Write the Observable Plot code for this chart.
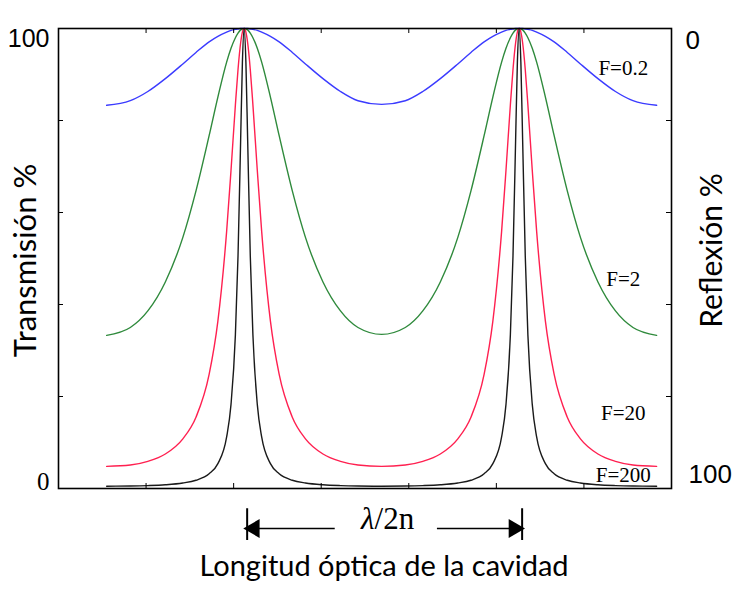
<!DOCTYPE html>
<html>
<head>
<meta charset="utf-8">
<script src="https://cdn.jsdelivr.net/npm/d3@7"></script>
<script src="https://cdn.jsdelivr.net/npm/@observablehq/plot@0.6"></script>
<style>
  html, body { margin: 0; padding: 0; background: #fff; }
  #chart { width: 732px; height: 589px; }
</style>
</head>
<body>
<div id="chart"></div>
<script>
// Optical path positions (arbitrary units along the cavity length axis)
const xs = [0.55,0.82,1.02,1.22,1.42,1.57,1.72,1.82,1.92,1.97,2.02,2.05,2.08,2.10,
  2.12,
  2.14,2.16,2.19,2.22,2.27,2.32,2.42,2.52,2.67,2.82,3.02,3.22,3.42,
  3.69,
  3.96,4.16,4.36,4.56,4.71,4.86,4.96,5.06,5.11,5.16,5.19,5.22,5.24,
  5.26,
  5.28,5.30,5.33,5.36,5.41,5.46,5.56,5.66,5.81,5.96,6.16,6.36,6.56,6.83];

// Transmission (%), one list per finesse coefficient
const tF02 = [83.3,84.3,86.3,89.1,92.3,94.8,97.1,98.3,99.2,99.6,99.8,99.9,100,100,
  100,
  100,100,99.9,99.8,99.6,99.2,98.3,97.1,94.8,92.3,89.1,86.3,84.3,
  83.5,
  84.3,86.3,89.1,92.3,94.8,97.1,98.3,99.2,99.6,99.8,99.9,100,100,
  100,
  100,100,99.9,99.8,99.6,99.2,98.3,97.1,94.8,92.3,89.1,86.3,84.3,83.3];

const tF2 = [33.3,35.0,38.6,44.9,54.6,64.7,76.7,85.1,92.7,95.7,98.0,99.0,99.7,99.9,
  100,
  99.9,99.7,99.0,98.0,95.7,92.7,85.1,76.7,64.7,54.6,44.9,38.6,35.0,
  33.5,
  35.0,38.6,44.9,54.6,64.7,76.7,85.1,92.7,95.7,98.0,99.0,99.7,99.9,
  100,
  99.9,99.7,99.0,98.0,95.7,92.7,85.1,76.7,64.7,54.6,44.9,38.6,35.0,33.3];

const tF20 = [4.8,5.1,5.9,7.5,10.8,15.5,24.8,36.4,55.9,69.2,83.4,91.1,96.9,99.2,
  100,
  99.2,96.9,91.1,83.4,69.2,55.9,36.4,24.8,15.5,10.8,7.5,5.9,5.1,
  4.8,
  5.1,5.9,7.5,10.8,15.5,24.8,36.4,55.9,69.2,83.4,91.1,96.9,99.2,
  100,
  99.2,96.9,91.1,83.4,69.2,55.9,36.4,24.8,15.5,10.8,7.5,5.9,5.1,4.8];

const tF200 = [0.5,0.54,0.63,0.81,1.2,1.8,3.2,5.4,11.2,18.3,33.4,50.6,75.8,92.6,
  100,
  92.6,75.8,50.6,33.4,18.3,11.2,5.4,3.2,1.8,1.2,0.81,0.63,0.54,
  0.5,
  0.54,0.63,0.81,1.2,1.8,3.2,5.4,11.2,18.3,33.4,50.6,75.8,92.6,
  100,
  92.6,75.8,50.6,33.4,18.3,11.2,5.4,3.2,1.8,1.2,0.81,0.63,0.54,0.5];

const seriesNames = ["F=0.2", "F=2", "F=20", "F=200"];
const seriesColors = ["#3b3bff", "#2f8a3c", "#ff2050", "#1a1a1a"];
const labelY = [91.3, 45.4, 16.3, 2.8];
const labelX = 6.45;

const xTicks = [1, 2, 3, 4, 5, 6];
const yTicks = [20, 40, 60, 80];
const peaks = [2.12, 5.26];

const rows = [];
[tF02, tF2, tF20, tF200].forEach((arr, i) => {
  arr.forEach((v, j) => rows.push({x: xs[j], t: v, s: seriesNames[i]}));
});

const sans = "'Liberation Sans', Arial, sans-serif";
const serif = "'Liberation Serif', 'Times New Roman', serif";
const calib = "Lato, 'Open Sans', sans-serif";

const tickLen = 5;
const kx = 7 / 613;   // data units per pixel along x (for tick length)
const ky = 100 / 460; // data units per pixel along y

const chart = Plot.plot({
  width: 732,
  height: 589,
  marginTop: 28,
  marginRight: 61,
  marginBottom: 101,
  marginLeft: 58,
  x: {domain: [0, 7], axis: null},
  y: {domain: [0, 100], axis: null},
  color: {domain: seriesNames, range: seriesColors},
  marks: [
    Plot.line(rows, {x: "x", y: "t", z: "s", stroke: "s", strokeWidth: 1.4, curve: "monotone-x"}),
    Plot.frame({stroke: "black", strokeWidth: 1.6}),
    // inward ticks
    Plot.ruleX(xTicks, {x: d => d, y1: 0, y2: tickLen * ky, stroke: "black"}),
    Plot.ruleX(xTicks, {x: d => d, y1: 100, y2: 100 - tickLen * ky, stroke: "black"}),
    Plot.ruleY(yTicks, {y: d => d, x1: 0, x2: tickLen * kx, stroke: "black"}),
    Plot.ruleY(yTicks, {y: d => d, x1: 7, x2: 7 - tickLen * kx, stroke: "black"}),
    // left axis labels
    Plot.text(["100"], {frameAnchor: "top-left", dx: -9, dy: 1, textAnchor: "end", fontFamily: sans, fontSize: 25, fill: "black"}),
    Plot.text(["0"], {frameAnchor: "bottom-left", dx: -9, dy: 1, textAnchor: "end", fontFamily: serif, fontSize: 25, fill: "black"}),
    // right axis labels
    Plot.text(["0"], {frameAnchor: "top-right", dx: 14, dy: 2, textAnchor: "start", fontFamily: sans, fontSize: 26, fill: "black"}),
    Plot.text(["100"], {frameAnchor: "bottom-right", dx: 17, dy: -6, textAnchor: "start", fontFamily: sans, fontSize: 26, fill: "black"}),
    // axis titles
    Plot.text(["Transmisión %"], {frameAnchor: "left", dx: -32, dy: 2, rotate: -90, textAnchor: "middle", fontFamily: calib, fontSize: 31, fill: "black"}),
    Plot.text(["Reflexión %"], {frameAnchor: "right", dx: 41, dy: -8, rotate: -90, textAnchor: "middle", fontFamily: calib, fontSize: 30, fill: "black"}),
    // curve labels
    Plot.text(seriesNames, {x: labelX, y: (d, i) => labelY[i], fontFamily: serif, fontSize: 21, fill: "black"}),
    // lambda/2n marker
    Plot.ruleX(peaks, {x: d => d, y1: -4.4, y2: -11.3, dx: 3, stroke: "black", strokeWidth: 2}),
    Plot.link([0], {x1: peaks[0], x2: peaks[0] + 1.0, y1: -8.7, y2: -8.7, dx: 3, stroke: "black", strokeWidth: 1.5}),
    Plot.link([0], {x1: peaks[1] - 0.95, x2: peaks[1], y1: -8.7, y2: -8.7, dx: 1, stroke: "black", strokeWidth: 1.5}),
    Plot.dot([0], {x: peaks[0], y: -8.7, symbol: "triangle", r: 7, rotate: -90, dx: 10, fill: "black", stroke: null}),
    Plot.dot([0], {x: peaks[1], y: -8.7, symbol: "triangle", r: 7, rotate: 90, dx: -5, fill: "black", stroke: null}),
    Plot.text(["λ/2n"], {x: (peaks[0] + peaks[1]) / 2, frameAnchor: "bottom", dx: 6, dy: 40, fontFamily: serif, fontSize: 31, fill: "black"}),
    // x axis title
    Plot.text(["Longitud óptica de la cavidad"], {frameAnchor: "bottom", dx: 19, dy: 87, fontFamily: calib, fontSize: 29, fill: "black"})
  ]
});
document.getElementById("chart").appendChild(chart);
// italic lambda in the period label
d3.select(chart).selectAll("text").filter(function () { return this.textContent === "λ/2n"; })
  .each(function () {
    const t = d3.select(this);
    t.text(null);
    t.append("tspan").attr("font-style", "italic").text("λ");
    t.append("tspan").text("/2n");
  });
</script>
</body>
</html>
